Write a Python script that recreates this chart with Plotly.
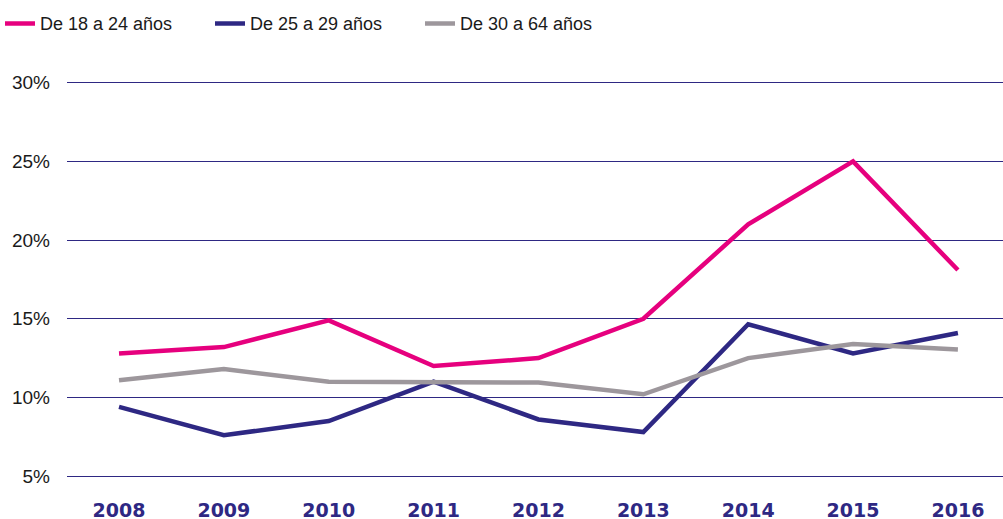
import plotly.graph_objects as go

years = [2008, 2009, 2010, 2011, 2012, 2013, 2014, 2015, 2016]
s18_24 = [12.8, 13.2, 14.9, 12.0, 12.5, 15.0, 21.0, 25.0, 18.1]
s25_29 = [9.4, 7.6, 8.5, 11.0, 8.6, 7.8, 14.65, 12.8, 14.1]
s30_64 = [11.1, 11.8, 11.0, 11.0, 10.95, 10.2, 12.5, 13.4, 13.05]
names = ["De 18 a 24 años", "De 25 a 29 años", "De 30 a 64 años"]
colors = ["#e6007e", "#2e2883", "#9d979c"]
y_ticks = [5, 10, 15, 20, 25, 30]
y_labels = ["5%", "10%", "15%", "20%", "25%", "30%"]

fig = go.Figure()
for name, vals, c in zip(names, [s18_24, s25_29, s30_64], colors):
    fig.add_trace(go.Scatter(x=years, y=vals, name=name, mode="lines",
                             line=dict(color=c, width=4.5)))

fig.update_layout(
    width=1003, height=519,
    margin=dict(l=67, r=0, t=67, b=35, autoexpand=False),
    paper_bgcolor="white", plot_bgcolor="white",
    font=dict(family="Liberation Sans, Arial, sans-serif", size=18, color="#1a1a1a"),
    showlegend=True,
    legend=dict(orientation="h", x=0.0, y=0.99, xref="container", yref="container",
                xanchor="left", yanchor="top",
                font=dict(size=18, color="#1a1a1a"),
                itemwidth=30, tracegroupgap=0,
                entrywidth=165),
    xaxis=dict(range=[2007.504, 2016.43], tickvals=years,
               ticktext=[str(y) for y in years],
               showgrid=False, zeroline=False, showline=False, automargin=False,
               tickfont=dict(family="DejaVu Sans, sans-serif", size=19,
                             color="#2e2883", weight="bold"),
               ticklabelstandoff=13),
    yaxis=dict(range=[4.5, 31], tickvals=y_ticks, ticktext=y_labels,
               showgrid=True, gridcolor="#2e2883", gridwidth=1,
               zeroline=False, showline=False, automargin=False,
               tickfont=dict(size=19, color="#1a1a1a"),
               ticklabelstandoff=16),
)

fig.write_html("out.html", config={"displayModeBar": False},
               post_script="document.body.style.margin='0';document.body.style.overflow='hidden';")
